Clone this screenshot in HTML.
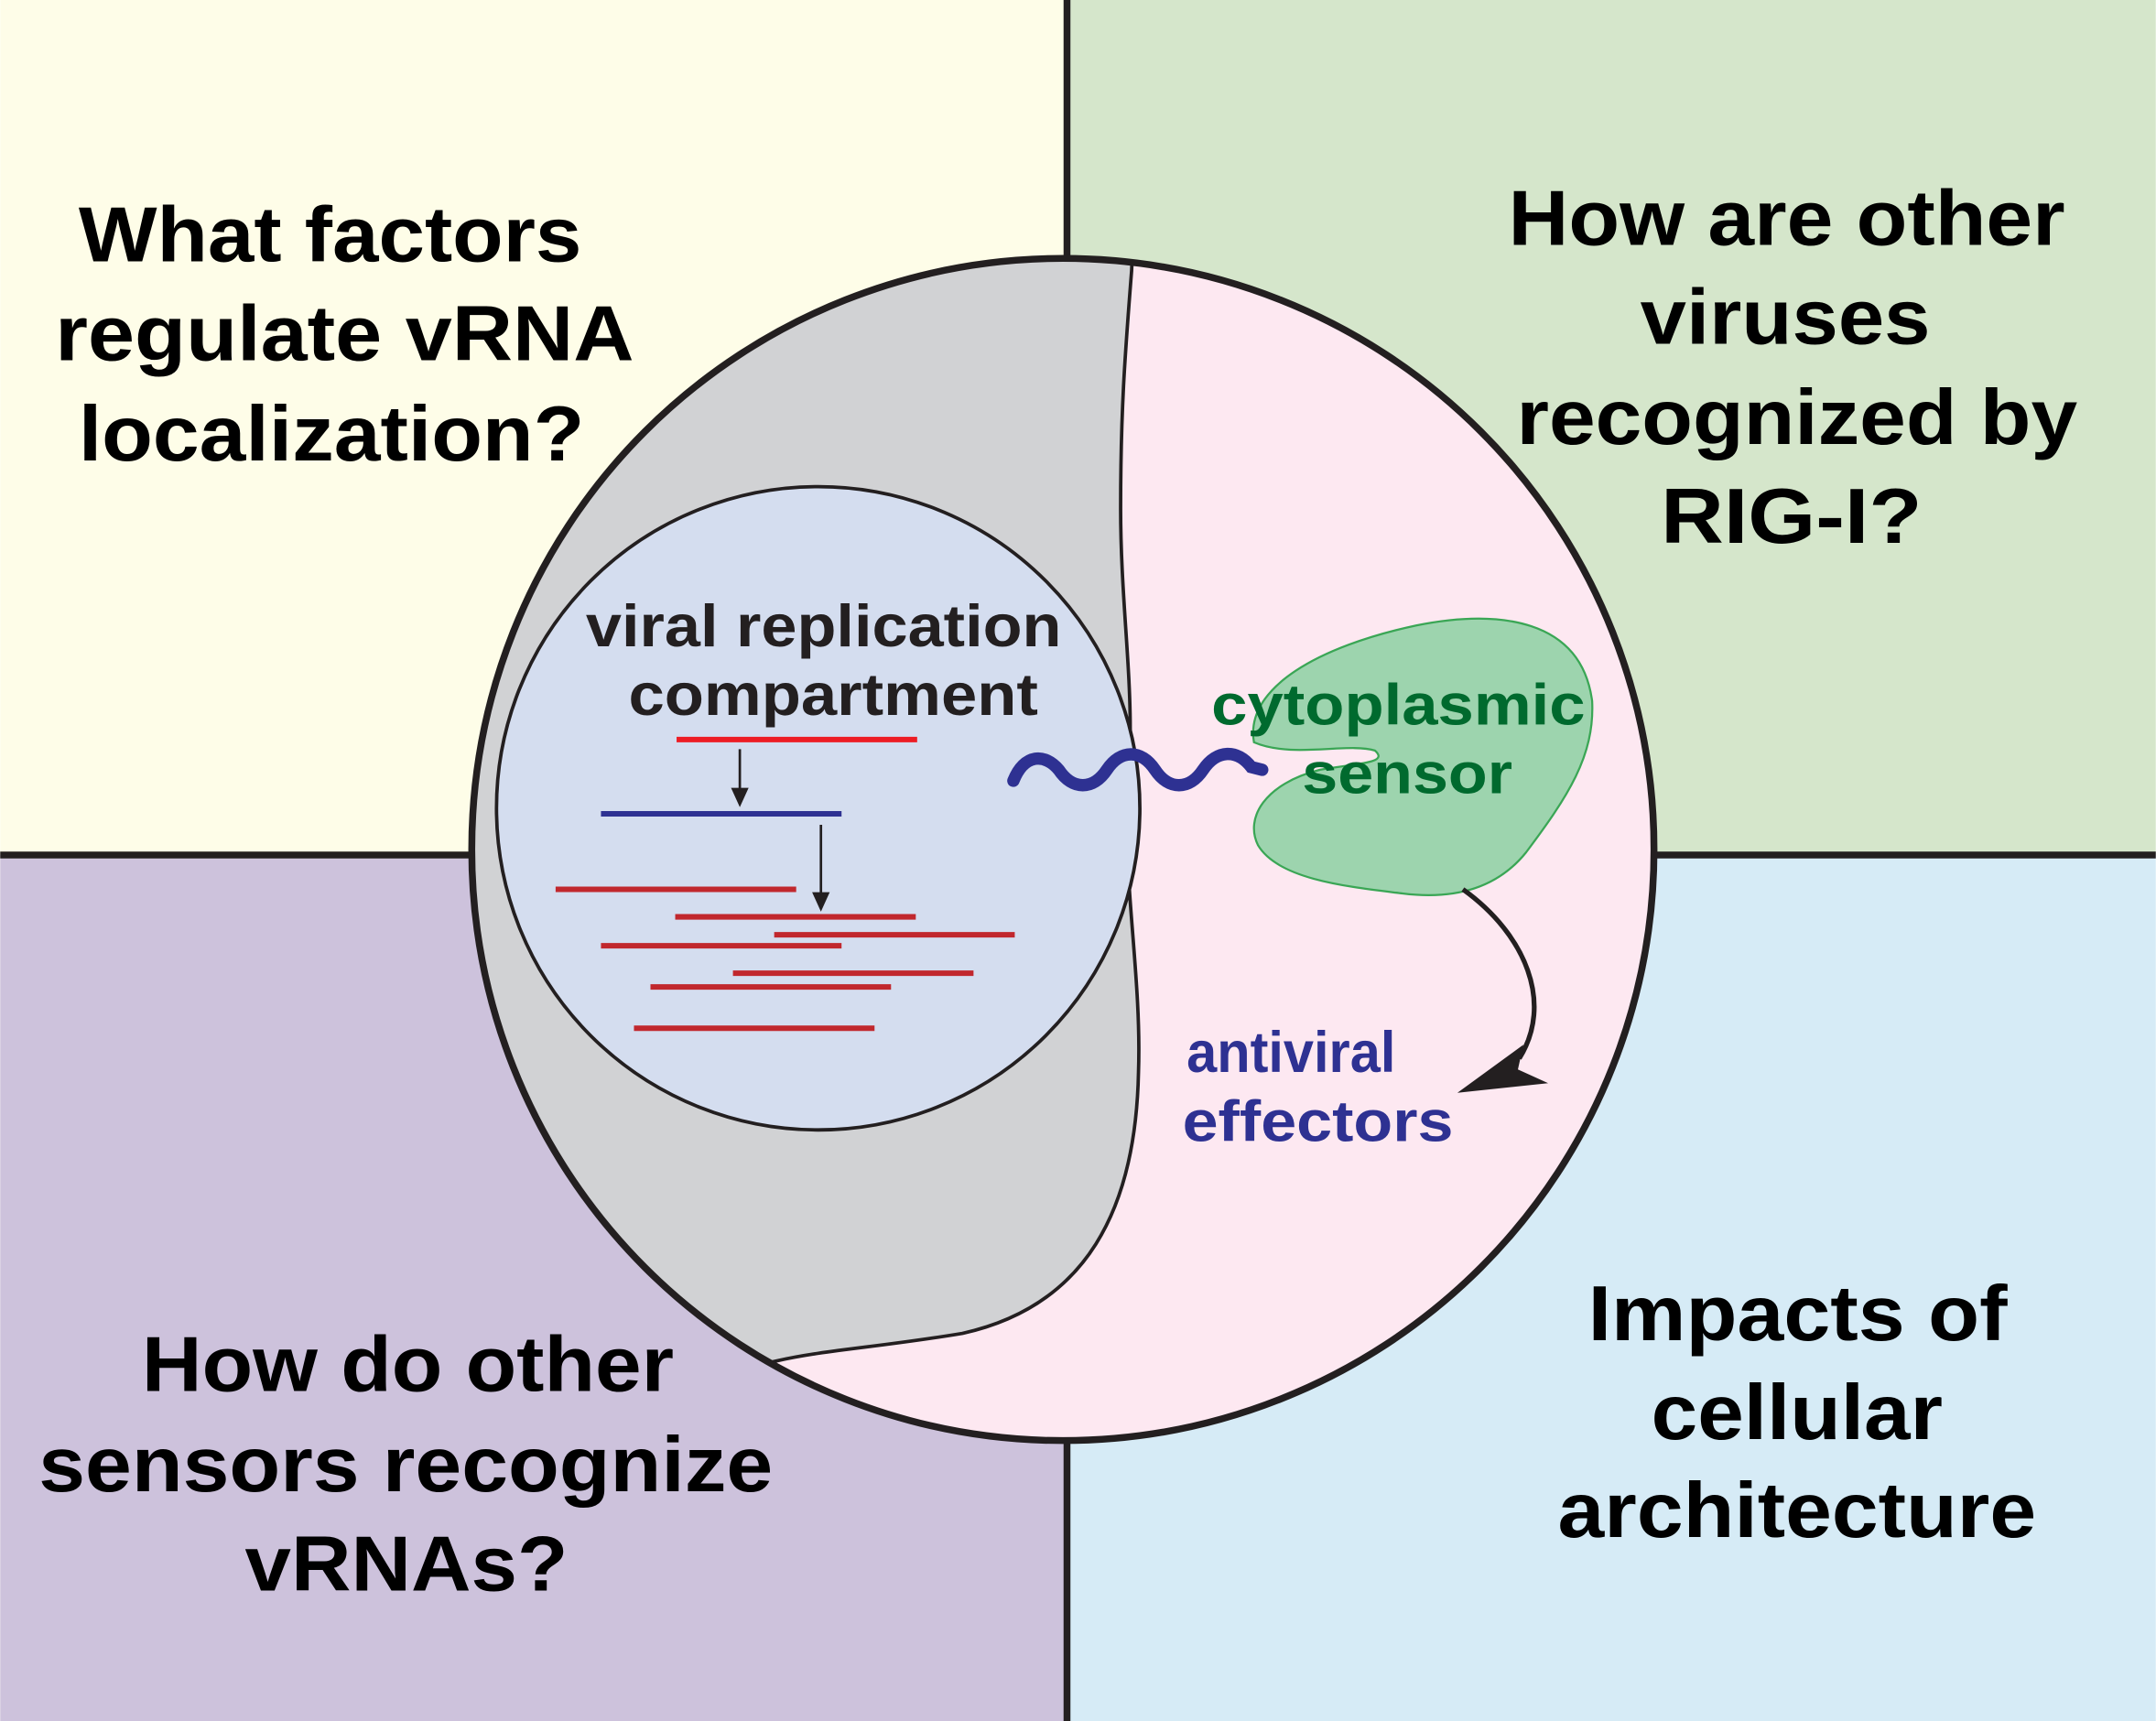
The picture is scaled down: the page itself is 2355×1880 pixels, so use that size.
<!DOCTYPE html>
<html><head><style>html,body{margin:0;padding:0;background:#fff}svg{display:block}</style></head>
<body>
<svg width="2355" height="1880" viewBox="0 0 1568 1252" xmlns="http://www.w3.org/2000/svg" font-family="Liberation Sans, Arial, sans-serif" font-weight="bold">
<defs><clipPath id="c"><circle cx="773" cy="618" r="430"/></clipPath></defs>
<rect x="0" y="0" width="776" height="622" fill="#fefde8"/>
<rect x="776" y="0" width="792" height="622" fill="#d5e6cb"/>
<rect x="0" y="622" width="776" height="630" fill="#cdc2dc"/>
<rect x="776" y="622" width="792" height="630" fill="#d6ebf6"/>
<line x1="776" y1="0" x2="776" y2="1252" stroke="#231f20" stroke-width="5"/>
<line x1="0" y1="622" x2="1568" y2="622" stroke="#231f20" stroke-width="5"/>
<circle cx="773" cy="618" r="430" fill="#fde8f1"/>
<path clip-path="url(#c)" d="M825,150 L823,197 C818,260 815,300 815,370 C815,430 822,480 822,530 L820,610 C820,660 830,720 828,780 C826,880 790,950 700,970 C640,980 600,982 565,990 L520,1000 L300,1000 L300,150 Z" fill="#d1d2d4" stroke="#231f20" stroke-width="2.5"/>
<circle cx="773" cy="618" r="430" fill="none" stroke="#231f20" stroke-width="5"/>
<circle cx="595" cy="588" r="234" fill="#d4ddef" stroke="#231f20" stroke-width="2.5"/>
<g font-size="43" fill="#231f20" lengthAdjust="spacingAndGlyphs">
<text x="426" y="470" textLength="346" lengthAdjust="spacingAndGlyphs">viral replication</text>
<text x="457" y="520" textLength="298" lengthAdjust="spacingAndGlyphs">compartment</text>
</g>
<g stroke="#c1272d" stroke-width="4">
<line x1="492" y1="538" x2="667" y2="538" stroke="#ed1c24"/>
<line x1="404" y1="647" x2="579" y2="647"/>
<line x1="491" y1="667" x2="666" y2="667"/>
<line x1="563" y1="680" x2="738" y2="680"/>
<line x1="437" y1="688" x2="612" y2="688"/>
<line x1="533" y1="708" x2="708" y2="708"/>
<line x1="473" y1="718" x2="648" y2="718"/>
<line x1="461" y1="748" x2="636" y2="748"/>
</g>
<line x1="437" y1="592" x2="612" y2="592" stroke="#2e3192" stroke-width="4"/>
<g stroke="#231f20" stroke-width="1.8" fill="#231f20">
<line x1="538" y1="545" x2="538" y2="578"/><path d="M533,574 L538,585 L543,574 Z"/>
<line x1="597" y1="600" x2="597" y2="654"/><path d="M592,650 L597,661 L602,650 Z"/>
</g>
<path d="M912,540 C905,500 960,470 1030,455 C1090,443 1150,450 1158,510 C1160,550 1140,580 1110,620 C1090,645 1060,655 1020,650 C980,645 930,640 915,615 C905,595 920,570 960,560 C990,555 1010,555 1000,546 C980,540 940,552 912,540 Z" fill="#9dd4ae" stroke="#3aa655" stroke-width="1.5"/>
<path d="M737,568 C745,548 760,548 770,560 C780,575 795,575 805,560 C815,545 830,545 840,560 C850,575 865,575 875,560 C885,545 900,545 910,558 L918,560" fill="none" stroke="#2e3192" stroke-width="9" stroke-linecap="round"/>
<g font-size="42" fill="#006a2e">
<text x="881" y="527" textLength="272" lengthAdjust="spacingAndGlyphs">cytoplasmic</text>
<text x="947" y="577" textLength="153" lengthAdjust="spacingAndGlyphs">sensor</text>
</g>
<path d="M1064,647 C1110,680 1130,730 1105,770" fill="none" stroke="#231f20" stroke-width="3.5"/>
<path d="M1060,795 L1108,760 L1104,778 L1126,788 Z" fill="#231f20"/>
<g font-size="42" fill="#2e3192">
<text x="863" y="780" textLength="152" lengthAdjust="spacingAndGlyphs">antiviral</text>
<text x="860" y="830" textLength="197" lengthAdjust="spacingAndGlyphs">effectors</text>
</g>
<g font-size="57" fill="#000">
<text x="57" y="190" textLength="366" lengthAdjust="spacingAndGlyphs">What factors</text>
<text x="40" y="262" textLength="421" lengthAdjust="spacingAndGlyphs">regulate vRNA</text>
<text x="57" y="335" textLength="368" lengthAdjust="spacingAndGlyphs">localization?</text>
<text x="1097" y="178" textLength="405" lengthAdjust="spacingAndGlyphs">How are other</text>
<text x="1193" y="250" textLength="211" lengthAdjust="spacingAndGlyphs">viruses</text>
<text x="1103" y="323" textLength="408" lengthAdjust="spacingAndGlyphs">recognized by</text>
<text x="1208" y="395" textLength="190" lengthAdjust="spacingAndGlyphs">RIG-I?</text>
<text x="103" y="1012" textLength="387" lengthAdjust="spacingAndGlyphs">How do other</text>
<text x="28" y="1085" textLength="534" lengthAdjust="spacingAndGlyphs">sensors recognize</text>
<text x="178" y="1157" textLength="235" lengthAdjust="spacingAndGlyphs">vRNAs?</text>
<text x="1155" y="975" textLength="305" lengthAdjust="spacingAndGlyphs">Impacts of</text>
<text x="1201" y="1047" textLength="212" lengthAdjust="spacingAndGlyphs">cellular</text>
<text x="1133" y="1118" textLength="348" lengthAdjust="spacingAndGlyphs">architecture</text>
</g>
</svg>
</body></html>
